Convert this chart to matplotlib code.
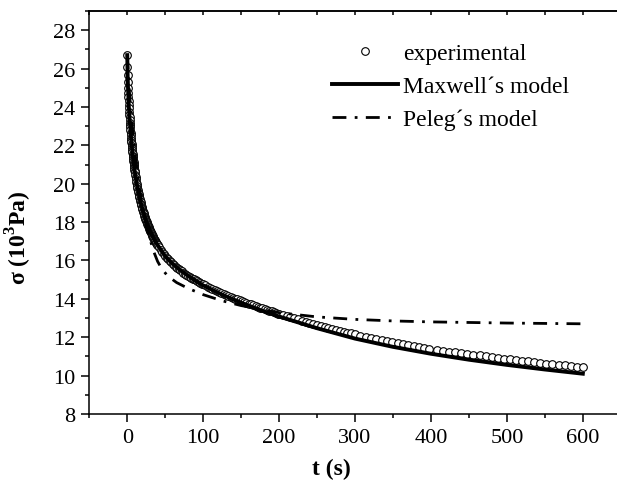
import matplotlib
matplotlib.use("Agg")
import matplotlib.pyplot as plt
from matplotlib.ticker import MultipleLocator

plt.rcParams['font.family'] = ['Liberation Serif', 'DejaVu Serif']
plt.rcParams['mathtext.fontset'] = 'custom'
plt.rcParams['mathtext.rm'] = 'Liberation Serif'
plt.rcParams['mathtext.bf'] = 'Liberation Serif:bold'

exp_t = [0, 0.25, 0.5, 0.75, 1, 1.25, 1.5, 1.75, 2, 2.25,
         2.5, 2.75, 3, 3.25, 3.5, 3.75, 4, 4.25, 4.5, 4.75,
         5, 5.25, 5.5, 5.75, 6, 6.25, 6.5, 6.75, 7, 7.25,
         7.5, 7.75, 8, 8.25, 8.5, 8.75, 9, 9.25, 9.5, 9.75,
         10, 10.5, 11, 11.5, 12, 12.5, 13, 13.5, 14, 14.5,
         15, 15.5, 16, 16.5, 17, 17.5, 18, 18.5, 19, 19.5,
         20, 20.5, 21, 21.5, 22, 22.5, 23, 23.5, 24, 24.5,
         25, 25.5, 26, 26.5, 27, 27.5, 28, 28.5, 29, 29.5,
         30, 30.5, 31, 31.5, 32, 32.5, 33, 33.5, 34, 34.5,
         35, 35.5, 36, 36.5, 37, 37.5, 38, 38.5, 39, 39.5,
         40, 42, 44, 46, 48, 50, 52, 54, 56, 58,
         60, 62, 64, 66, 68, 70, 72, 74, 76, 78,
         80, 82, 84, 86, 88, 90, 92, 94, 96, 98,
         100, 103, 106, 109, 112, 115, 118, 121, 124, 127,
         130, 133, 136, 139, 142, 145, 148, 151, 154, 157,
         160, 163, 166, 169, 172, 175, 178, 181, 184, 187,
         190, 193, 196, 199,
         200, 205, 210, 215, 220, 225, 230, 235, 240, 245,
         250, 255, 260, 265, 270, 275, 280, 285, 290, 295,
         300, 307, 314, 321, 328, 335, 342, 349, 356, 363,
         370, 377, 384, 391, 398,
         408, 416, 424, 432, 440, 448, 456, 464, 472, 480,
         488, 496, 504, 512, 520, 528, 536, 544, 552, 560,
         568, 576, 584, 592, 600]
exp_s = [26.70, 26.10, 25.65, 25.30, 25.00, 24.74, 24.50, 24.29, 24.10, 23.92,
         23.75, 23.60, 23.45, 23.31, 23.18, 23.05, 22.93, 22.79, 22.66, 22.53,
         22.40, 22.29, 22.17, 22.06, 21.95, 21.85, 21.75, 21.65, 21.55, 21.46,
         21.37, 21.29, 21.20, 21.12, 21.04, 20.96, 20.88, 20.81, 20.74, 20.67,
         20.60, 20.47, 20.34, 20.22, 20.10, 19.99, 19.88, 19.77, 19.67, 19.57,
         19.47, 19.38, 19.29, 19.20, 19.12, 19.04, 18.96, 18.88, 18.81, 18.74,
         18.67, 18.60, 18.53, 18.47, 18.40, 18.34, 18.27, 18.21, 18.15, 18.09,
         18.04, 17.98, 17.93, 17.88, 17.83, 17.78, 17.73, 17.69, 17.64, 17.60,
         17.55, 17.51, 17.47, 17.42, 17.38, 17.34, 17.30, 17.26, 17.22, 17.18,
         17.14, 17.11, 17.07, 17.04, 17.00, 16.97, 16.93, 16.90, 16.86, 16.83,
         16.80, 16.68, 16.56, 16.45, 16.35, 16.25, 16.15, 16.06, 15.98, 15.90,
         15.82, 15.75, 15.68, 15.61, 15.55, 15.49, 15.43, 15.37, 15.31, 15.26,
         15.21, 15.16, 15.11, 15.06, 15.01, 14.97, 14.92, 14.88, 14.84, 14.80,
         14.76, 14.70, 14.64, 14.58, 14.52, 14.47, 14.42, 14.36, 14.31, 14.26,
         14.21, 14.16, 14.11, 14.06, 14.01, 13.97, 13.92, 13.88, 13.84, 13.79,
         13.75, 13.71, 13.67, 13.62, 13.58, 13.54, 13.50, 13.46, 13.42, 13.38,
         13.35, 13.31, 13.27, 13.23,
         13.22, 13.16, 13.10, 13.04, 12.98, 12.93, 12.87, 12.81, 12.76, 12.70,
         12.65, 12.60, 12.54, 12.49, 12.44, 12.39, 12.34, 12.29, 12.24, 12.20,
         12.15, 12.09, 12.03, 11.97, 11.91, 11.85, 11.80, 11.74, 11.69, 11.64,
         11.59, 11.54, 11.49, 11.44, 11.40,
         11.34, 11.29, 11.25, 11.21, 11.17, 11.13, 11.09, 11.05, 11.01, 10.97,
         10.93, 10.89, 10.85, 10.81, 10.77, 10.74, 10.70, 10.66, 10.63, 10.60,
         10.56, 10.53, 10.50, 10.47, 10.44]

# Maxwell model
max_t = [0, 0.5, 1, 2, 3, 4, 5, 7, 10, 13, 16, 20, 25, 30, 35, 40, 50, 60, 70, 80,
         90, 100, 125, 150, 175, 200, 250, 300, 350, 400, 450, 500, 550, 600]
max_s = [26.70, 25.65, 25.00, 24.10, 23.45, 22.93, 22.40, 21.55, 20.60, 19.88,
         19.29, 18.67, 18.04, 17.55, 17.14, 16.80, 16.22, 15.82, 15.49, 15.21,
         14.94, 14.70, 14.22, 13.80, 13.42, 13.08, 12.47, 11.93, 11.50, 11.14,
         10.83, 10.56, 10.32, 10.10]

# Peleg model
pel_t = [0, 2, 5, 10, 15, 20, 25, 30, 35, 40, 45, 53, 65, 80, 100, 125, 150, 200,
         250, 300, 350, 400, 450, 500, 550, 600]
pel_s = [26.70, 25.30, 23.60, 21.60, 20.00, 18.80, 17.80, 17.10, 16.45, 15.95,
         15.60, 15.20, 14.85, 14.55, 14.22, 13.90, 13.65, 13.28, 13.06, 12.93,
         12.85, 12.80, 12.77, 12.74, 12.72, 12.70]

labels = ['experimental', 'Maxwell\u00b4s model', 'Peleg\u00b4s model']

fig = plt.figure(figsize=(6.17, 4.89), dpi=100)
ax = fig.add_axes([0.1447, 0.1513, 0.8553, 0.8242])

ax.plot(exp_t, exp_s, linestyle='none', marker='o', markersize=5.5,
        markerfacecolor='white', markeredgecolor='black', markeredgewidth=0.8,
        label=labels[0], zorder=2)
ax.plot(pel_t, pel_s, color='black', linewidth=2.0, dashes=(5, 3, 1, 3),
        label=labels[2], zorder=3)
ax.plot(max_t, max_s, color='black', linewidth=2.8, label=labels[1], zorder=4)

ax.set_xlim(-50, 645)
ax.set_ylim(8, 29)
ax.xaxis.set_major_locator(MultipleLocator(100))
ax.xaxis.set_minor_locator(MultipleLocator(50))
ax.yaxis.set_major_locator(MultipleLocator(2))
ax.yaxis.set_minor_locator(MultipleLocator(1))

ax.spines['right'].set_visible(False)
for s in ['left', 'bottom', 'top']:
    ax.spines[s].set_linewidth(1.1)

ax.tick_params(axis='both', which='major', direction='out', length=6, width=1.1,
               labelsize=16, pad=4)
ax.tick_params(axis='both', which='minor', direction='out', length=3, width=1.1)

sec = ax.secondary_xaxis('top')
sec.xaxis.set_major_locator(MultipleLocator(100))
sec.xaxis.set_minor_locator(MultipleLocator(50))
sec.tick_params(axis='x', which='both', direction='in', length=3, width=1.1,
                labeltop=False)
sec.spines['top'].set_linewidth(1.1)

ax.set_xlabel('t (s)', fontsize=17, fontweight='bold')
ax.set_ylabel('\u03c3 (10$^{\\mathbf{3}}$Pa)', fontsize=17, fontweight='bold')
ax.xaxis.set_label_coords(0.458, -0.11)
ax.yaxis.set_label_coords(-0.105, 0.44)

handles, labs = ax.get_legend_handles_labels()
order = [0, 2, 1]
leg = ax.legend([handles[i] for i in order], [labs[i] for i in order],
                loc='upper left', bbox_to_anchor=(0.538, 0.911),
                bbox_transform=fig.transFigure, frameon=False, fontsize=17,
                handlelength=2.8, handletextpad=0.2, labelspacing=0.49,
                borderpad=0, borderaxespad=0)

fig.savefig('out.png', dpi=100)
